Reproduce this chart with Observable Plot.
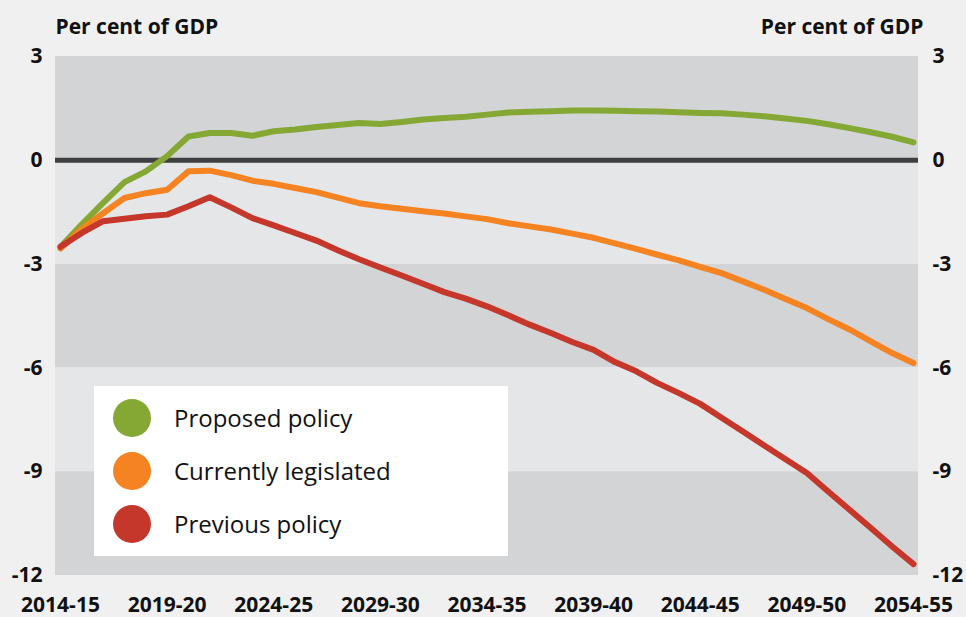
<!DOCTYPE html>
<html>
<head>
<meta charset="utf-8">
<script src="https://cdn.jsdelivr.net/npm/d3@7"></script>
<script src="https://cdn.jsdelivr.net/npm/@observablehq/plot@0.6"></script>
<style>
  body { margin: 0; background: #f0f0f0; font-family: "Open Sans", sans-serif; color: #111; }
  #wrap { position: relative; width: 966px; height: 617px; overflow: hidden; }
  #legend { position: absolute; left: 94px; top: 386px; width: 414px; height: 170px; background: #fff; }
  .row { position: absolute; left: 0; height: 38px; display: flex; align-items: center; }
  .dot { width: 38px; height: 38px; border-radius: 50%; margin-left: 19px; }
  .lab { margin-left: 23px; font-size: 24px; line-height: 38px; color: #111; }
</style>
</head>
<body>
<div id="wrap"></div>
<script>
// Financial years (start year of each), 2014-15 .. 2054-55
const years = [2014,2015,2016,2017,2018,2019,2020,2021,2022,2023,2024,2025,2026,2027,2028,2029,2030,2031,2032,2033,2034,2035,2036,2037,2038,2039,2040,2041,2042,2043,2044,2045,2046,2047,2048,2049,2050,2051,2052,2053,2054];

const proposed = [-2.5,-1.85,-1.23,-0.63,-0.32,0.12,0.69,0.79,0.79,0.71,0.84,0.89,0.96,1.02,1.08,1.05,1.11,1.18,1.22,1.26,1.32,1.38,1.40,1.42,1.44,1.44,1.43,1.42,1.41,1.39,1.37,1.36,1.32,1.27,1.21,1.14,1.04,0.93,0.81,0.68,0.52];

const legislated = [-2.55,-1.98,-1.53,-1.09,-0.95,-0.85,-0.32,-0.30,-0.43,-0.59,-0.68,-0.80,-0.92,-1.08,-1.24,-1.33,-1.40,-1.47,-1.54,-1.62,-1.70,-1.82,-1.91,-2.00,-2.12,-2.24,-2.40,-2.56,-2.73,-2.89,-3.08,-3.26,-3.50,-3.74,-4.01,-4.27,-4.59,-4.89,-5.23,-5.57,-5.86];

const previous = [-2.5,-2.1,-1.76,-1.69,-1.62,-1.57,-1.33,-1.07,-1.36,-1.67,-1.88,-2.1,-2.32,-2.6,-2.86,-3.1,-3.33,-3.57,-3.81,-4.0,-4.22,-4.48,-4.75,-4.99,-5.25,-5.48,-5.83,-6.1,-6.44,-6.73,-7.04,-7.44,-7.84,-8.24,-8.64,-9.04,-9.57,-10.1,-10.63,-11.16,-11.67];

const seriesNames = ["Proposed policy", "Currently legislated", "Previous policy"];
const seriesColors = ["#84a833", "#f58322", "#c4372a"];

const xTicks = [2014,2019,2024,2029,2034,2039,2044,2049,2054];
const yTicks = [3,0,-3,-6,-9,-12];

const darkBand = "#d3d4d6", lightBand = "#e5e6e8";
const bands = yTicks.slice(0, -1).map((hi, i) => ({hi, lo: yTicks[i + 1], dark: i % 2 === 0}));

const rows = [];
[proposed, legislated, previous].forEach((vals, s) => {
  vals.forEach((v, i) => rows.push({year: years[i], value: v, series: seriesNames[s]}));
});

const fy = d => `${d}-${String((d + 1) % 100).padStart(2, "0")}`;
const fv = d => String(d); // hyphen-minus, as in the original
const axisFont = {fontSize: 21, fontWeight: "bold"};

const chart = Plot.plot({
  width: 966,
  height: 617,
  marginLeft: 55,
  marginRight: 48,
  marginTop: 56,
  marginBottom: 42,
  style: {fontFamily: "Open Sans, sans-serif", background: "transparent", color: "#111"},
  x: {type: "linear", domain: [2014, 2054], insetLeft: 5, insetRight: 5},
  y: {domain: [-12, 3]},
  marks: [
    Plot.rect(bands.filter(b => b.dark), {y1: "lo", y2: "hi", fill: darkBand}),
    Plot.rect(bands.filter(b => !b.dark), {y1: "lo", y2: "hi", fill: lightBand}),
    Plot.ruleY([0], {stroke: "#3f3f41", strokeWidth: 5}),
    ...seriesNames.map((name, s) =>
      Plot.line(rows.filter(r => r.series === name), {
        x: "year", y: "value", stroke: seriesColors[s], strokeWidth: 6,
        strokeLinecap: "round", strokeLinejoin: "round"
      })
    ),
    Plot.axisY({anchor: "left", ticks: yTicks, tickSize: 0, tickPadding: 13, tickFormat: fv, label: null, ...axisFont}),
    Plot.axisY({anchor: "right", ticks: yTicks, tickSize: 0, tickPadding: 14, tickFormat: fv, label: null, ...axisFont}),
    Plot.axisX({ticks: xTicks, tickSize: 0, tickPadding: 22, tickFormat: fy, label: null, ...axisFont}),
    Plot.text(["Per cent of GDP"], {frameAnchor: "top-left", textAnchor: "start", lineAnchor: "bottom", dy: -23, ...axisFont}),
    Plot.text(["Per cent of GDP"], {frameAnchor: "top-right", textAnchor: "end", lineAnchor: "bottom", dy: -23, dx: 5, ...axisFont})
  ]
});

const wrap = document.getElementById("wrap");
wrap.appendChild(chart);

const legend = document.createElement("div");
legend.id = "legend";
const rowTops = [13, 66, 119];
seriesNames.forEach((name, s) => {
  const row = document.createElement("div");
  row.className = "row";
  row.style.top = rowTops[s] + "px";
  const dot = document.createElement("div");
  dot.className = "dot";
  dot.style.background = seriesColors[s];
  const lab = document.createElement("span");
  lab.className = "lab";
  lab.textContent = name;
  row.appendChild(dot);
  row.appendChild(lab);
  legend.appendChild(row);
});
wrap.appendChild(legend);
</script>
</body>
</html>
